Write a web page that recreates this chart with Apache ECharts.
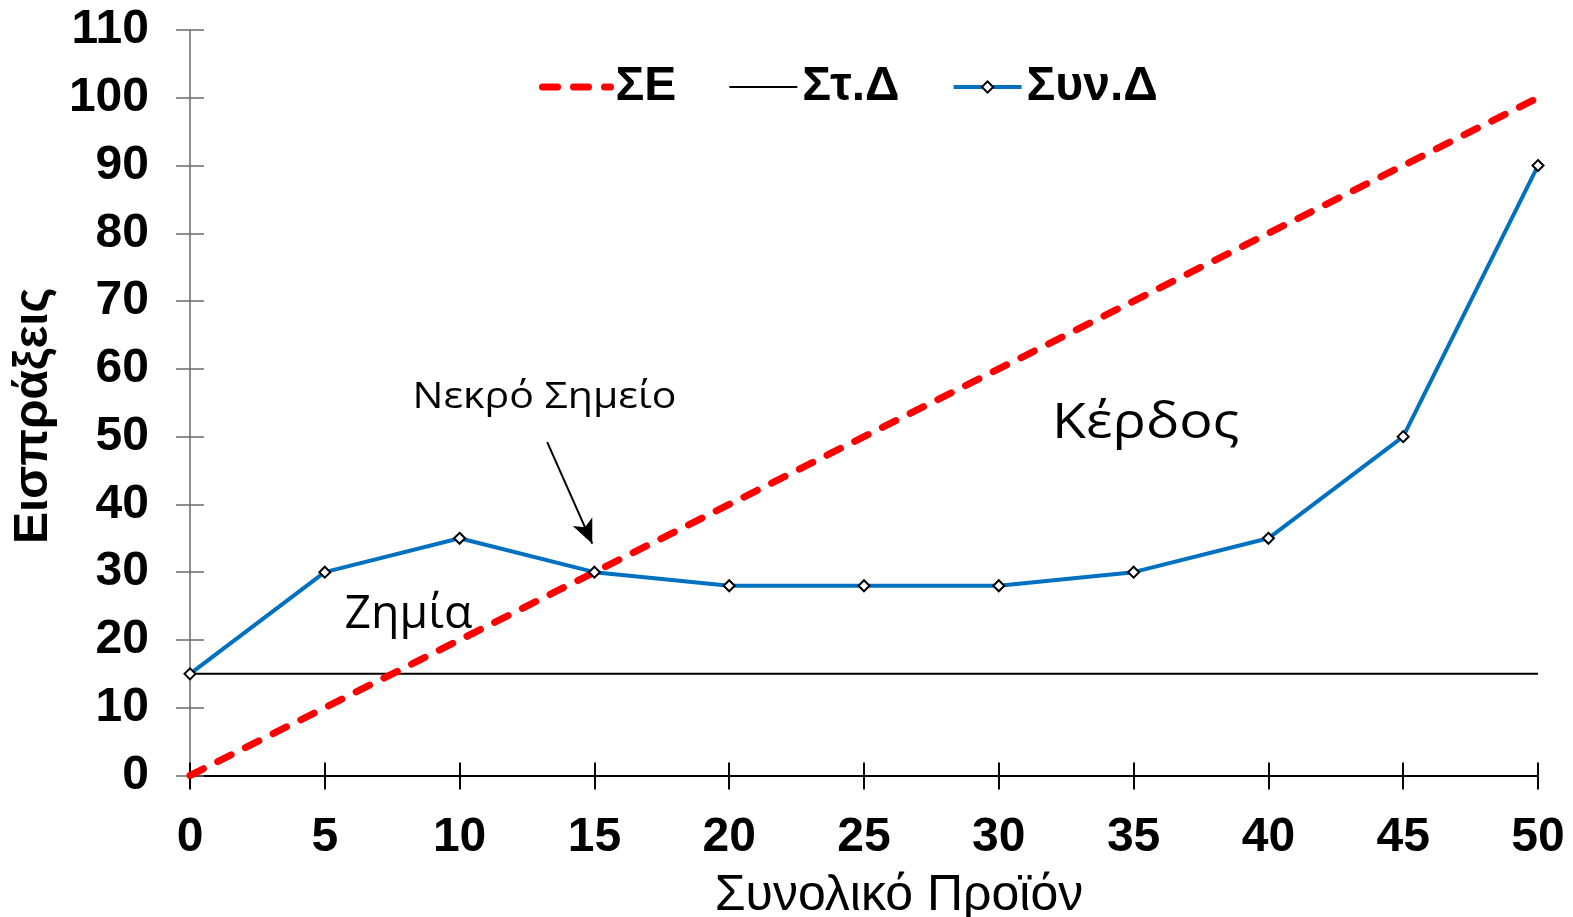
<!DOCTYPE html>
<html>
<head>
<meta charset="utf-8">
<script src="https://cdn.jsdelivr.net/npm/echarts@6/dist/echarts.min.js"></script>
<style>
html,body{margin:0;padding:0;background:#fff;}
#c{width:1573px;height:917px;}
</style>
</head>
<body>
<div id="c"></div>
<script>
// ---- data ----
const xValues = [0, 5, 10, 15, 20, 25, 30, 35, 40, 45, 50];
const revenue = [0, 10, 20, 30, 40, 50, 60, 70, 80, 90, 100];       // ΣΕ
const fixedCost = [15, 15, 15, 15, 15, 15, 15, 15, 15, 15, 15];     // Στ.Δ
const totalCost = [15, 30, 35, 30, 28, 28, 28, 30, 35, 50, 90];     // Συν.Δ
const seriesNames = ['ΣΕ', 'Στ.Δ', 'Συν.Δ'];
const xAxisTitle = 'Συνολικό Προϊόν';
const yAxisTitle = 'Εισπράξεις';
const notes = [
  { text: 'Νεκρό Σημείο', x: 13.15, y: 55.8, size: 36, sx: 1.14 },
  { text: 'Κέρδος', x: 35.45, y: 51.9, size: 50, sx: 1.11 },
  { text: 'Ζημία', x: 8.1, y: 23.6, size: 45, sx: 1.03 }
];
const arrowFrom = [13.25, 49.2];
const arrowTo = [14.92, 34.2];

const pairs = arr => xValues.map((x, i) => [x, arr[i]]);
const FONT = '"Liberation Sans", Arial, sans-serif';
const NOTE_FONT = '"Open Sans", "Noto Sans", sans-serif';
const RED = '#ff0000', BLUE = '#0070c0';
const redLine = { color: RED, width: 7, type: [15, 16], cap: 'round' };
const blueLine = { color: BLUE, width: 4 };
const blackLine = { color: '#000', width: 2 };

const chart = echarts.init(document.getElementById('c'), null, { renderer: 'canvas' });

const option = {
  backgroundColor: '#ffffff',
  animation: false,
  grid: { left: 190, right: 35, top: 30, bottom: 141.5, containLabel: false, outerBoundsMode: 'none' },
  legend: {
    data: [
      { name: seriesNames[0], itemStyle: { color: 'rgba(0,0,0,0)', opacity: 0, borderWidth: 0 }, lineStyle: redLine },
      { name: seriesNames[1], itemStyle: { color: 'rgba(0,0,0,0)', opacity: 0, borderWidth: 0 }, lineStyle: blackLine },
      { name: seriesNames[2], lineStyle: blueLine }
    ],
    left: 534,
    top: 58,
    itemWidth: 68,
    itemHeight: 14,
    itemGap: 52,
    textStyle: { fontFamily: FONT, fontSize: 48, fontWeight: 'bold', color: '#000' }
  },
  xAxis: [{
    type: 'value', min: 0, max: 50, interval: 5,
    name: xAxisTitle, nameLocation: 'middle', nameGap: 96,
    nameTextStyle: { fontFamily: FONT, fontSize: 50, color: '#000', padding: [0, 0, 0, 70] },
    axisLine: { show: true, onZero: false, lineStyle: { color: '#000', width: 2 } },
    axisTick: { show: true, length: 14, lineStyle: { color: '#000', width: 2 } },
    axisLabel: { fontFamily: FONT, fontSize: 48, fontWeight: 'bold', color: '#000', margin: 38 },
    splitLine: { show: false }
  }, {
    type: 'value', min: 0, max: 50, interval: 5, position: 'bottom',
    axisLine: { show: false, onZero: false },
    axisTick: { show: true, inside: true, length: 13, lineStyle: { color: '#000', width: 2 } },
    axisLabel: { show: false },
    splitLine: { show: false }
  }],
  yAxis: [{
    type: 'value', min: 0, max: 110, interval: 10,
    name: yAxisTitle, nameLocation: 'middle', nameGap: 114, nameRotate: 90,
    nameTextStyle: { fontFamily: FONT, fontSize: 48, fontWeight: 'bold', color: '#000', padding: [0, 26, 0, 0] },
    axisLine: { show: true, onZero: false, lineStyle: { color: '#6b6b6b', width: 1.5 } },
    axisTick: { show: true, length: 14, lineStyle: { color: '#6b6b6b', width: 1.5 } },
    axisLabel: { fontFamily: FONT, fontSize: 48, fontWeight: 'bold', color: '#000', margin: 41 },
    splitLine: { show: false }
  }, {
    type: 'value', min: 0, max: 110, interval: 10, position: 'left',
    axisLine: { show: false, onZero: false },
    axisTick: { show: true, inside: true, length: 14, lineStyle: { color: '#6b6b6b', width: 1.5 } },
    axisLabel: { show: false },
    splitLine: { show: false }
  }],
  series: [{
    name: seriesNames[0], type: 'line', data: pairs(revenue),
    symbol: 'none', z: 3,
    itemStyle: { color: RED },
    lineStyle: redLine,
    markLine: {
      silent: true, symbol: ['none', 'arrow'], symbolSize: [16, 24],
      label: { show: false },
      lineStyle: { color: '#000', width: 2, type: 'solid' },
      itemStyle: { color: '#000' },
      data: [[{ coord: arrowFrom }, { coord: arrowTo }]]
    }
  }, {
    name: seriesNames[1], type: 'line', data: pairs(fixedCost),
    symbol: 'none', z: 2,
    itemStyle: { color: '#000' },
    lineStyle: blackLine
  }, {
    name: seriesNames[2], type: 'line', data: pairs(totalCost),
    symbol: 'diamond', symbolSize: 11, showSymbol: true, z: 4,
    itemStyle: { color: '#ffffff', borderColor: '#000', borderWidth: 2 },
    lineStyle: blueLine
  }]
};
chart.setOption(option);

const graphics = notes.map(n => {
  const p = chart.convertToPixel({ gridIndex: 0 }, [n.x, n.y]);
  return {
    type: 'text', x: p[0], y: p[1], z: 10, scaleX: n.sx,
    style: { text: n.text, fontFamily: NOTE_FONT, fontSize: n.size, fill: '#000', align: 'center', verticalAlign: 'middle' }
  };
});
chart.setOption({ graphic: graphics });
</script>
</body>
</html>
